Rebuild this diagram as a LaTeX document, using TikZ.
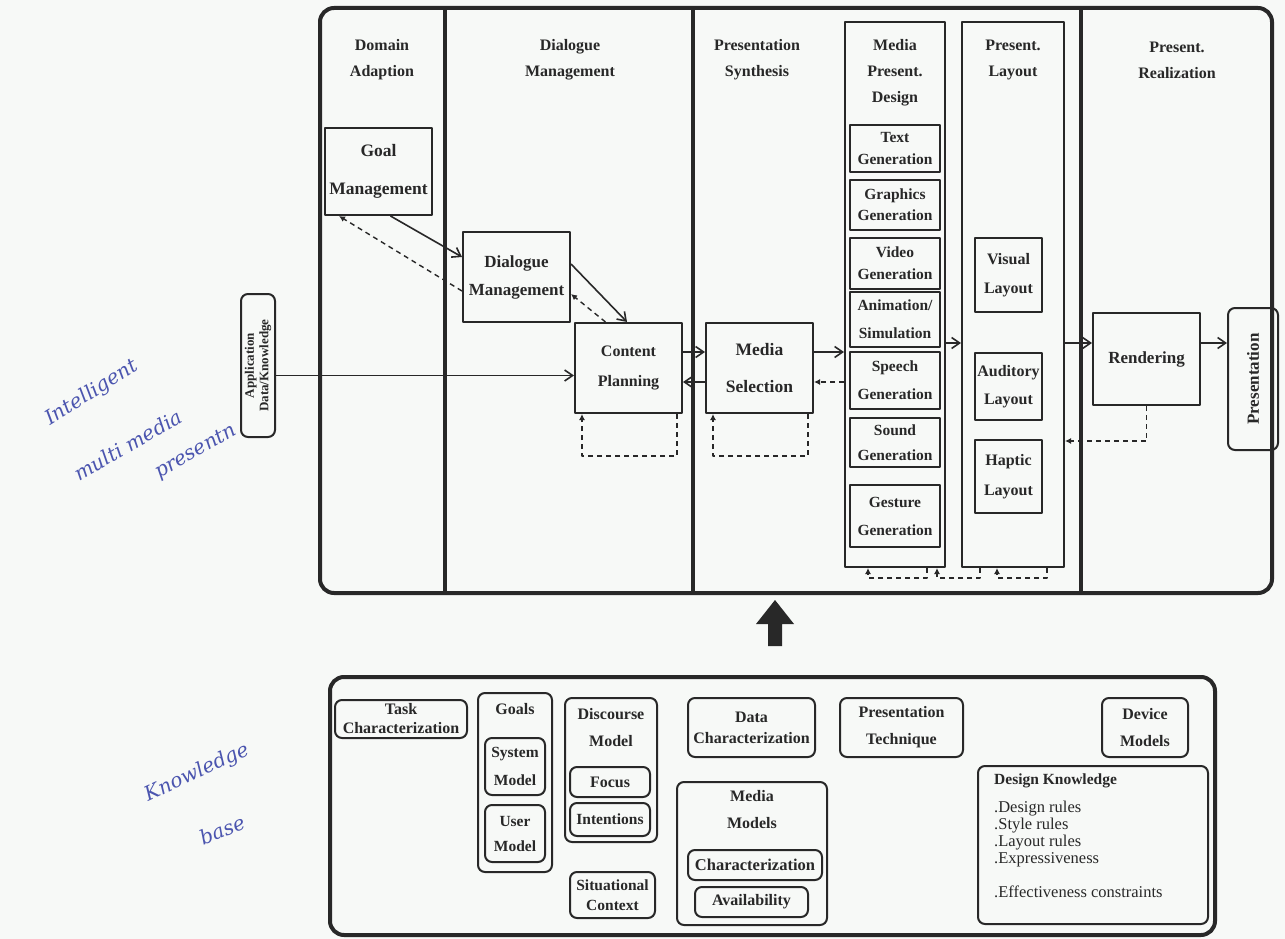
\documentclass[tikz,border=0pt]{standalone}
\usepackage{fontspec}
\setmainfont{Liberation Serif}
\newfontfamily\handfont{DejaVu Serif}
\usetikzlibrary{arrows.meta}
\definecolor{ink}{RGB}{40,40,40}
\definecolor{pen}{RGB}{75,85,175}
\definecolor{paper}{RGB}{247,249,247}
\newcommand\fs[2]{\fontsize{#1}{#2}\selectfont\bfseries}
\newcommand\fr[2]{\fontsize{#1}{#2}\selectfont}
\begin{document}
\begin{tikzpicture}[x=1pt,y=-1pt,line join=round,
  corners/.style n args={4}{at={({(#1+#3)/2},{(#2+#4)/2})},
     minimum width={(#3-#1)*1pt}, minimum height={(#4-#2)*1pt}},
  box/.style={draw=ink, line width=2pt, inner sep=0pt, align=center, text=ink, font=\fs{16}{26}},
  rbox/.style={box, rounded corners=7pt},
  frame/.style={draw=ink, line width=4pt, rounded corners=14pt, inner sep=0pt},
  hdr/.style={text=ink, align=center, inner sep=0pt, font=\fs{16}{26}},
  divider/.style={draw=ink, line width=3.5pt},
  flow/.style={draw=ink, line width=1.6pt, -{Straight Barb[length=8pt,width=11pt,line width=1.6pt]}},
  fb/.style={draw=ink, line width=1.4pt, dash pattern=on 5pt off 4pt, -{Latex[length=6pt,width=6pt]}},
  hand/.style={text=pen, font=\handfont\itshape\fontsize{20}{22}\selectfont, inner sep=0pt}]
\fill[paper] (0,0) rectangle (1285,939);
\useasboundingbox (0,0) rectangle (1285,939);

% ---------- top frame ----------
\node[frame, corners={320}{8}{1272}{593}] (imp) {};
\draw[divider] (445,8) -- (445,593);
\draw[divider] (693,8) -- (693,593);
\draw[divider] (1081,8) -- (1081,593);

\node[hdr] (h-da) at (382,60) {Domain\\Adaption};
\node[hdr] (h-dm) at (570,60) {Dialogue\\Management};
\node[hdr] (h-ps) at (757,60) {Presentation\\Synthesis};
\node[hdr] (h-pl) at (1013,60) {Present.\\Layout};
\node[hdr] (h-pr) at (1177,60) {Present.\\Realization};

% media presentation design column
\node[box, corners={845}{22}{945}{567}] (mpd) {};
\node[hdr] (h-mpd) at (895,73) {Media\\Present.\\Design};
\node[box, corners={850}{125}{940}{172}, font=\fs{15.5}{22}] (tg) {Text\\Generation};
\node[box, corners={850}{180}{940}{230}, font=\fs{15.5}{21}] (gg) {Graphics\\Generation};
\node[box, corners={850}{238}{940}{289}, font=\fs{15.5}{22}] (vg) {Video\\Generation};
\node[box, corners={850}{292}{940}{347}, font=\fs{15.5}{28}] (ag) {Animation/\\Simulation};
\node[box, corners={850}{352}{940}{409}, font=\fs{15.5}{28}] (spg) {Speech\\Generation};
\node[box, corners={850}{418}{940}{467}, font=\fs{15.5}{25}] (sog) {Sound\\Generation};
\node[box, corners={850}{485}{940}{547}, font=\fs{15.5}{28}] (geg) {Gesture\\Generation};

% layout column
\node[box, corners={962}{22}{1064}{567}] (lay) {};
\node[box, corners={975}{238}{1042}{312}, font=\fs{16}{29}] (vl) {Visual\\Layout};
\node[box, corners={975}{353}{1042}{420}, font=\fs{16}{28}] (al) {Auditory\\Layout};
\node[box, corners={975}{440}{1042}{513}, font=\fs{16}{30}] (hl) {Haptic\\Layout};

% process boxes
\node[box, corners={325}{128}{432}{215}, font=\fs{17.5}{38}] (goal) {Goal\\Management};
\node[box, corners={463}{232}{570}{322}, font=\fs{17}{28}] (dm) {Dialogue\\Management};
\node[box, corners={575}{323}{682}{413}, font=\fs{16}{30}] (cp) {Content\\Planning};
\node[box, corners={706}{323}{813}{413}, font=\fs{17.5}{37}] (ms) {Media\\Selection};
\node[box, corners={1093}{313}{1200}{405}, font=\fs{17}{20}] (rend) {Rendering};

\node[rbox, corners={241}{294}{275}{437}] (app) {};
\node[rotate=90, text=ink, align=center, inner sep=0pt, font=\fs{13}{14.5}] (apptxt) at (app.center) {Application\\Data/Knowledge};
\node[rbox, corners={1228}{308}{1278}{450}] (pres) {};
\node[rotate=90, text=ink, inner sep=0pt, font=\fs{17}{20}] (prestxt) at (pres.center) {Presentation};

\coordinate (r343) at (0,343);
\coordinate (r441) at (0,441);

% connectors
\draw[flow] ([xshift=12pt]goal.south) -- ([yshift=-26pt]dm.north west);
\draw[fb] ([yshift=32pt]dm.south west) -- ([xshift=15pt]goal.south west);
\draw[flow] ([yshift=-33pt]dm.north east) -- ([xshift=-1.5pt]cp.north);
\draw[fb] ([xshift=-23pt]cp.north) -- ([yshift=29pt]dm.south east);
\draw[flow] ([yshift=-10pt]app.east) -- ([yshift=-10pt]app.east -| cp.west);
\draw[flow] ([yshift=16pt]cp.east) -- ([yshift=16pt]cp.east -| ms.west);
\draw[flow] ([yshift=-14pt]ms.west) -- ([yshift=-14pt]ms.west -| cp.east);
\draw[fb] ([xshift=-6pt]cp.south east) -- ++(0,42) -| ([xshift=8pt]cp.south west);
\draw[fb] ([xshift=-6pt]ms.south east) -- ++(0,42) -| ([xshift=8pt]ms.south west);
\draw[flow] ([yshift=16pt]ms.east) -- ([yshift=16pt]ms.east -| mpd.west);
\draw[fb] ([yshift=-14pt]mpd.west |- ms.east) -- ([yshift=-14pt]ms.east);
\draw[flow] (mpd.east |- r343) -- (lay.west |- r343);
\draw[flow] (lay.east |- r343) -- (rend.west |- r343);
\draw[flow] (rend.east |- r343) -- (pres.west |- r343);
\draw[fb] (rend.south) |- (lay.east |- r441);
\draw[fb] ([xshift=32pt]mpd.south) -- ++(0,10) -| ([xshift=-27pt]mpd.south);
\draw[fb] ([xshift=-33pt]lay.south) -- ++(0,10) -| ([xshift=42pt]mpd.south);
\draw[fb] ([xshift=34pt]lay.south) -- ++(0,10) -| ([xshift=-16pt]lay.south);

% big arrow
\fill[ink] (768,646) -- (768,624) -- (756,624) -- (775,600) -- (794,624) -- (782,624) -- (782,646) -- cycle;

% ---------- knowledge base ----------
\node[frame, corners={330}{677}{1215}{935}] (kb) {};
\node[rbox, corners={335}{700}{467}{738}, font=\fs{16}{19}] (task) {Task\\Characterization};
\node[rbox, corners={478}{693}{552}{872}] (goals) {};
\node[hdr, font=\fs{16}{16}] (goalstxt) at (515,709) {Goals};
\node[rbox, corners={485}{738}{545}{795}, font=\fs{15.5}{28}] (sysm) {System\\Model};
\node[rbox, corners={485}{805}{545}{862}, font=\fs{15.5}{25}] (userm) {User\\Model};
\node[rbox, corners={565}{698}{657}{842}] (disc) {};
\node[hdr, font=\fs{16}{27}] (disctxt) at (611,728) {Discourse\\Model};
\node[rbox, corners={570}{767}{650}{797}, font=\fs{16}{16}] (focus) {Focus};
\node[rbox, corners={570}{803}{650}{836}, font=\fs{15.5}{16}] (intent) {Intentions};
\node[rbox, corners={570}{872}{655}{918}, font=\fs{15.5}{20}] (sit) {Situational\\Context};
\node[rbox, corners={688}{698}{815}{757}, font=\fs{16}{21}] (datac) {Data\\Characterization};
\node[rbox, corners={677}{782}{827}{925}] (mm) {};
\node[hdr, font=\fs{16}{27}] (mmtxt) at (752,810) {Media\\Models};
\node[rbox, corners={688}{850}{822}{880}, font=\fs{16.5}{16}] (charz) {Characterization};
\node[rbox, corners={695}{887}{808}{917}, font=\fs{16}{16}] (avail) {Availability};
\node[rbox, corners={840}{698}{963}{757}, font=\fs{16}{27}] (prest) {Presentation\\Technique};
\node[rbox, corners={1102}{698}{1188}{757}, font=\fs{16}{27}] (dev) {Device\\Models};
\node[rbox, corners={978}{766}{1208}{924}] (dk) {};
\node[anchor=north west, text=ink, align=left, inner sep=0pt, font=\fr{16.5}{17}] (dktxt) at (994,774)
  {{\bfseries\fontsize{15.5}{17}\selectfont Design Knowledge}\\[11pt].Design rules\\.Style rules\\.Layout rules\\.Expressiveness\\[17pt].Effectiveness constraints};

% ---------- handwriting ----------
\node[hand, rotate=32] (hw1) at (92,393) {Intelligent};
\node[hand, rotate=30] (hw2) at (128,445) {multi media};
\node[hand, rotate=30] (hw3) at (196,452) {presentn};
\node[hand, rotate=25] (hw4) at (197,773) {Knowledge};
\node[hand, rotate=22] (hw5) at (222,830) {base};
\end{tikzpicture}
\end{document}
